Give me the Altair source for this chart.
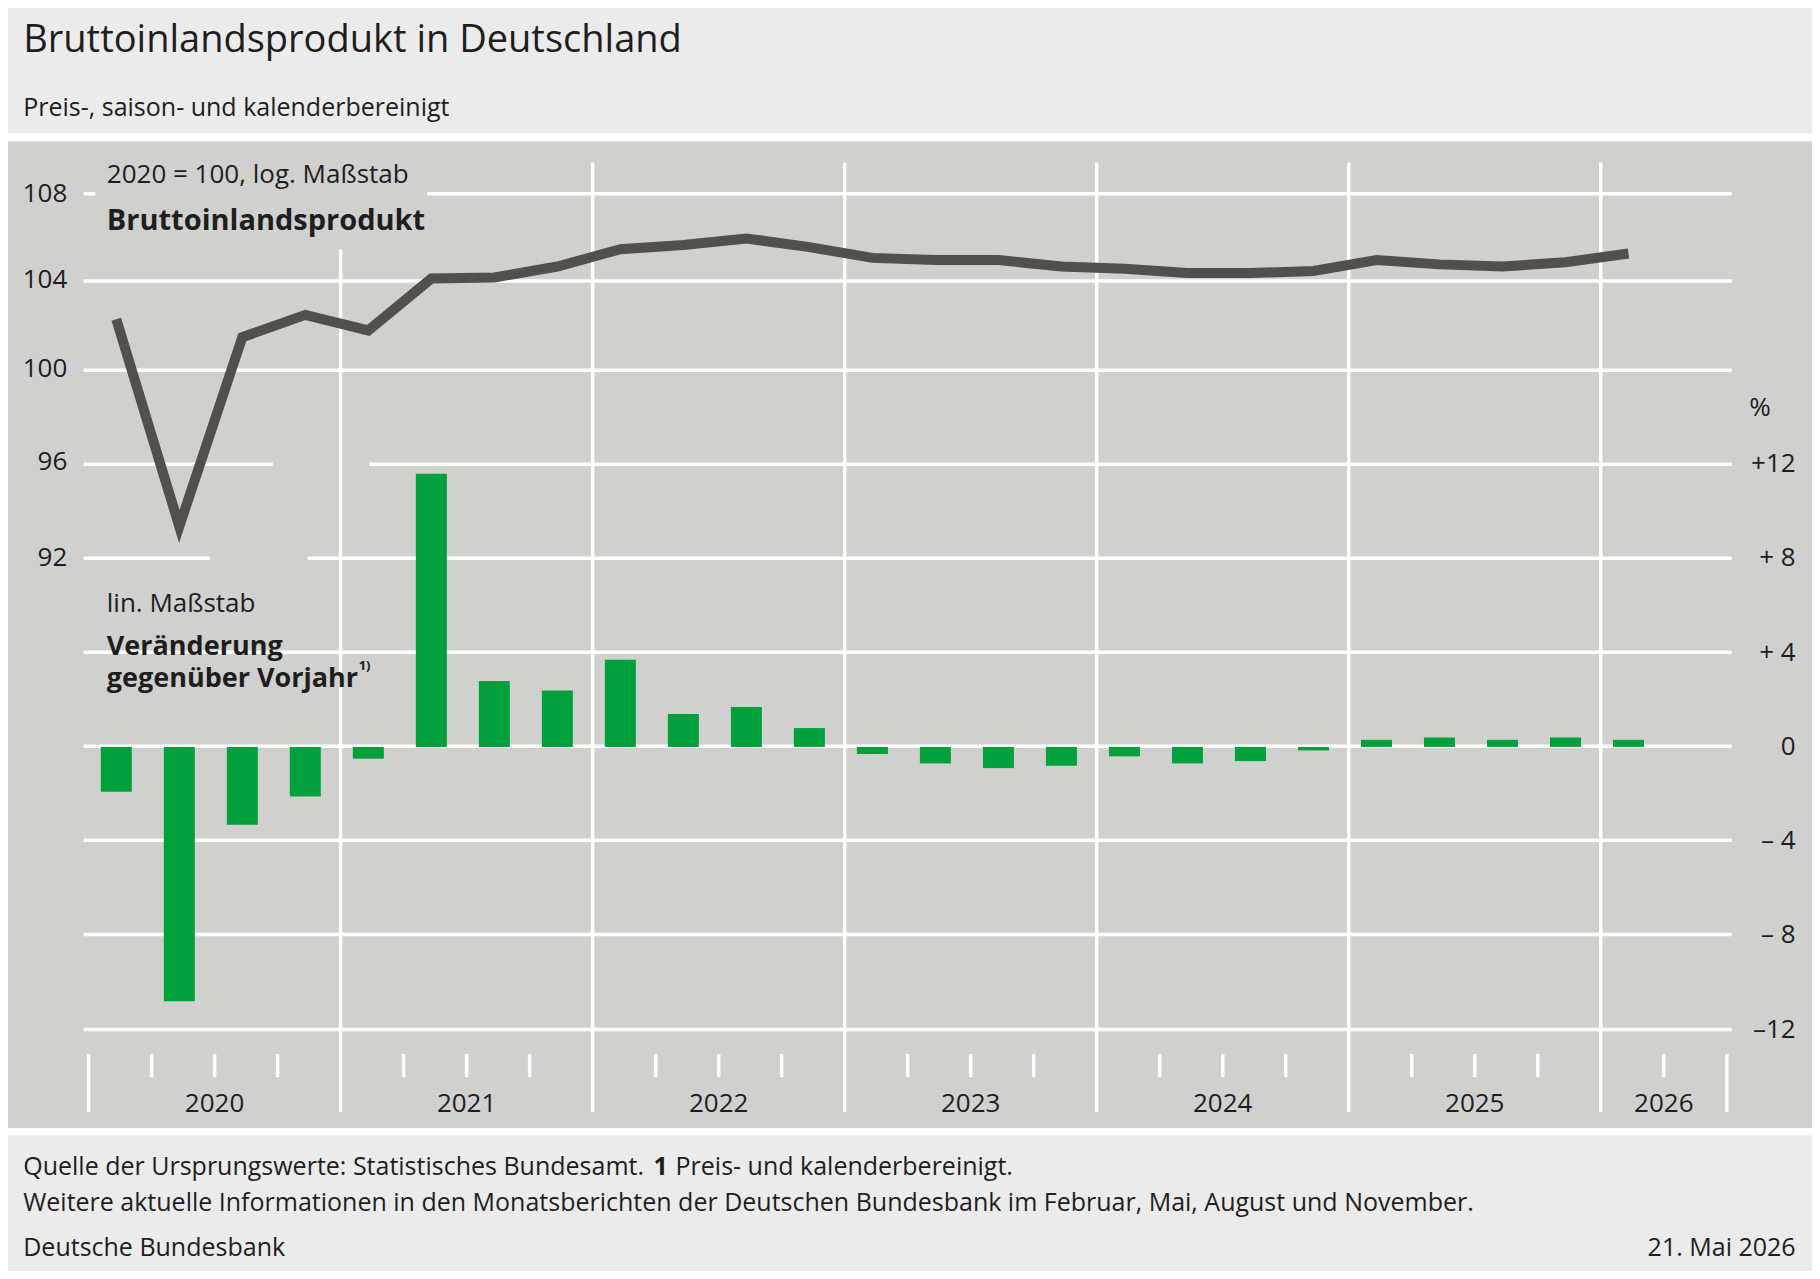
import pandas as pd
import altair as alt

S = 1820 / 1568  # reference read in 1568-wide units


def px(d):
    return d * S - 8


quarters = [2020 + i * 0.25 + 0.11 for i in range(25)]
bip = [102.2, 93.3, 101.4, 102.4, 101.7, 104.05, 104.1, 104.6,
       105.4, 105.6, 105.9, 105.5, 105.0, 104.9, 104.9, 104.6,
       104.5, 104.3, 104.3, 104.4, 104.9, 104.7, 104.6, 104.8, 105.2]
change = [-1.9, -10.8, -3.3, -2.1, -0.5, 11.6, 2.8, 2.4,
          3.7, 1.4, 1.7, 0.8, -0.3, -0.7, -0.9, -0.8,
          -0.4, -0.7, -0.6, -0.15, 0.3, 0.4, 0.3, 0.4, 0.3]
years = [2020, 2021, 2022, 2023, 2024, 2025, 2026]
left_ticks = [108, 104, 100, 96, 92]
right_ticks = [12, 8, 4, 0, -4, -8, -12]
right_labels = ["+12", "+ 8", "+ 4", "0", "\u2013 4", "\u2013 8", "\u201312"]

FONT = "Open Sans"
INK = "#1e1e1e"
W, H = 1804, 1263

xs = alt.Scale(domain=[2020, 2026.5], range=[px(72), px(1492)])
ylog = alt.Scale(type="log", domain=[92, 108], range=[px(481), px(167)])
ylin = alt.Scale(domain=[-12, 12], range=[px(887), px(400)])

df = pd.DataFrame({"q": quarters, "bip": bip, "chg": change})

# background bands
bands = pd.DataFrame({
    "y0": [0, px(115), px(122), px(972)],
    "y1": [px(115), px(122), px(972), px(978)],
    "c": ["#ebebeb", "#ffffff", "#d0d0ce", "#ffffff"],
})
bg = alt.Chart(bands).mark_rect().encode(
    x=alt.value(-8), x2=alt.value(W + 8),
    y=alt.Y("y0:Q", scale=None), y2="y1:Q",
    color=alt.Color("c:N", scale=None),
)

# horizontal gridline segments (display units)
segs = pd.DataFrame({
    "x0": [72, 368, 72, 72, 72, 318, 72, 265, 72, 72, 72, 72, 72],
    "x1": [82, 1492, 1492, 1492, 235, 1492, 181, 1492, 1492, 1492, 1492, 1492, 1492],
    "y": [167, 167, 242, 319, 400, 400, 481, 481, 562, 643, 724, 805, 887],
})
segs = segs.assign(x0=segs.x0 * S - 8, x1=segs.x1 * S - 8, y=segs.y * S - 8)
hgrid = alt.Chart(segs).mark_rule(color="white", strokeWidth=3.5).encode(
    x=alt.X("x0:Q", scale=None), x2="x1:Q", y=alt.Y("y:Q", scale=None)
)

vdf = pd.DataFrame({"x": years[1:], "top": [px(215)] + [px(140)] * 5})
vgrid = alt.Chart(vdf).mark_rule(color="white", strokeWidth=3.5).encode(
    x=alt.X("x:Q", scale=xs, axis=None), y=alt.Y("top:Q", scale=None), y2=alt.value(px(958))
)
edge = pd.DataFrame({"x": [2020, 2026.5]})
edges = alt.Chart(edge).mark_rule(color="white", strokeWidth=3.5).encode(
    x=alt.X("x:Q", scale=xs, axis=None), y=alt.value(px(908)), y2=alt.value(px(958))
)
qt = pd.DataFrame({"x": [y + f for y in years[:-1] for f in (0.25, 0.5, 0.75)] + [2026.25]})
qticks = alt.Chart(qt).mark_rule(color="white", strokeWidth=3.5).encode(
    x=alt.X("x:Q", scale=xs, axis=None), y=alt.value(px(908)), y2=alt.value(px(928))
)
yl = pd.DataFrame({"x": [y + 0.5 for y in years[:-1]] + [2026.25], "t": [str(y) for y in years]})
ylabels = alt.Chart(yl).mark_text(font=FONT, fontSize=26, color=INK, baseline="alphabetic").encode(
    x=alt.X("x:Q", scale=xs, axis=None), y=alt.value(px(958)), text="t:N"
)

bars = alt.Chart(df).mark_bar(color="#00a03c", width=31).encode(
    x=alt.X("q:Q", scale=xs, axis=None),
    y=alt.Y("chg:Q", scale=ylin, axis=None), y2=alt.datum(0),
)
line = alt.Chart(df).mark_line(color="#524f4c", strokeWidth=10, strokeJoin="miter").encode(
    x=alt.X("q:Q", scale=xs, axis=None),
    y=alt.Y("bip:Q", scale=ylog, axis=None),
)

lt = pd.DataFrame({"v": left_ticks, "t": [str(v) for v in left_ticks]})
lticks = alt.Chart(lt).mark_text(font=FONT, fontSize=26, color=INK, align="right", baseline="middle").encode(
    x=alt.value(px(58)), y=alt.Y("v:Q", scale=ylog, axis=None), text="t:N"
)
rt = pd.DataFrame({"v": right_ticks, "t": right_labels})
rticks = alt.Chart(rt).mark_text(font=FONT, fontSize=26, color=INK, align="right", baseline="middle").encode(
    x=alt.value(px(1547)), y=alt.Y("v:Q", scale=ylin, axis=None), text="t:N"
)


def txt(x, y, t, size, weight="normal", align="left"):
    d = pd.DataFrame({"t": [t]})
    return alt.Chart(d).mark_text(font=FONT, fontSize=size, fontWeight=weight, color=INK,
                                  align=align, baseline="alphabetic").encode(
        x=alt.value(px(x)), y=alt.value(px(y)), text="t:N")


texts = [
    txt(20, 45, "Bruttoinlandsprodukt in Deutschland", 38, 500),
    txt(20, 100, "Preis-, saison- und kalenderbereinigt", 25),
    txt(92, 158, "2020 = 100, log. Maßstab", 26),
    txt(92, 198, "Bruttoinlandsprodukt", 29, "bold"),
    txt(92, 527, "lin. Maßstab", 26),
    txt(92, 564, "Veränderung", 27, "bold"),
    txt(92, 592, "gegenüber Vorjahr", 27, "bold"),
    txt(309, 577, "1)", 13, "bold"),
    txt(1507, 358, "%", 26),
    txt(20, 1012, "Quelle der Ursprungswerte: Statistisches Bundesamt.", 25),
    txt(563, 1012, "1", 25, "bold"),
    txt(582, 1012, "Preis- und kalenderbereinigt.", 25),
    txt(20, 1043, "Weitere aktuelle Informationen in den Monatsberichten der Deutschen Bundesbank im Februar, Mai, August und November.", 25),
    txt(20, 1082, "Deutsche Bundesbank", 25),
    txt(1547, 1082, "21. Mai 2026", 25, align="right"),
]

chart = alt.layer(
    bg, hgrid, vgrid, edges, qticks, ylabels, bars, line, lticks, rticks, *texts
).resolve_scale(y="independent").properties(
    width=W, height=H, background="#ebebeb", padding=0,
    autosize=alt.AutoSizeParams(type="none"),
).configure_view(stroke=None)

chart.save("out.html", embed_options={"renderer": "svg", "actions": False})
